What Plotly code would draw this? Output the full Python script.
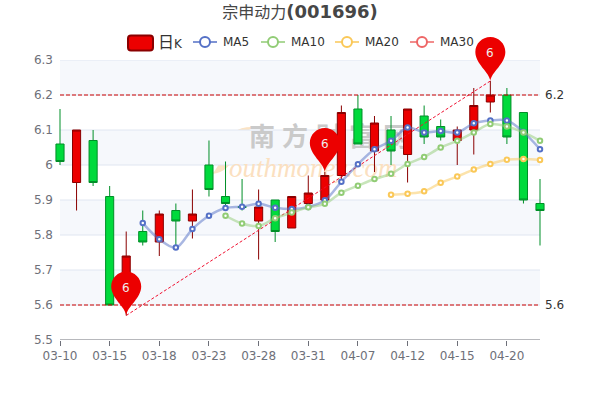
import plotly.graph_objects as go

dates = ["03-10","03-11","03-14","03-15","03-16","03-17","03-18","03-21","03-22","03-23",
         "03-24","03-25","03-28","03-29","03-30","03-31","04-01","04-06","04-07","04-08",
         "04-11","04-12","04-13","04-14","04-15","04-18","04-19","04-20","04-21","04-22"]
opens  = [6.06,5.95,6.07,5.91,5.62,5.81,5.78,5.87,5.84,6.00,5.91,5.881,5.84,5.90,5.82,5.89,5.90,5.97,6.16,6.04,6.10,6.03,6.14,6.11,6.07,6.10,6.18,6.20,6.15,5.89]
closes = [6.01,6.10,5.95,5.60,5.74,5.78,5.86,5.84,5.86,5.93,5.89,5.879,5.88,5.81,5.91,5.92,5.97,6.15,6.06,6.12,6.04,6.16,6.08,6.08,6.10,6.17,6.20,6.08,5.90,5.87]
lows   = [6.00,5.87,5.94,5.60,5.57,5.77,5.74,5.77,5.79,5.91,5.87,5.87,5.73,5.78,5.82,5.89,5.90,5.96,6.06,5.98,6.00,5.95,6.06,6.07,6.00,6.03,6.15,6.06,5.89,5.77]
highs  = [6.16,6.10,6.10,5.94,5.81,5.87,5.87,5.89,5.93,6.07,6.01,5.96,5.93,5.90,5.91,5.97,5.98,6.17,6.20,6.14,6.14,6.16,6.17,6.13,6.11,6.22,6.24,6.22,6.15,5.96]

ma5  = [5.834,5.788,5.764,5.817,5.855,5.877,5.881,5.889,5.878,5.874,5.880,5.899,5.952,6.002,6.045,6.069,6.107,6.093,6.097,6.093,6.119,6.127,6.127,6.094,6.045]
ma10 = [5.855,5.833,5.826,5.848,5.864,5.879,5.889,5.921,5.941,5.960,5.975,6.003,6.023,6.050,6.069,6.093,6.117,6.110,6.093,6.069]
ma20 = [5.915,5.918,5.925,5.949,5.967,5.987,6.003,6.015,6.017,6.014]
ma30 = []

y_ticks = [5.5,5.6,5.7,5.8,5.9,6.0,6.1,6.2,6.3]
y_labels = ["5.5","5.6","5.7","5.8","5.9","6","6.1","6.2","6.3"]
x_tick_idx = [0,3,6,9,12,15,18,21,24,27]
tinted_bands = [(5.6,5.7),(5.8,5.9),(6.0,6.1),(6.2,6.3)]
mark_levels = [6.2,5.6]
pin_points = [(4,5.57,"6"),(16,5.98,"6"),(26,6.24,"6")]
trend_x = [dates[4],dates[26]]
trend_y = [5.57,6.24]

L,R,T,B = 54,54,60,60
W,H = 600,400
STEP = 480/29
PAD = 6/STEP
FONT = "DejaVu Sans, Noto Sans CJK SC, sans-serif"
GRAY = "#6E7079"

def px(x): return (x-L)/(W-L-R)
def py(y): return (H-B-y)/(H-T-B)
def idx_to_paper(i): return (i+PAD)/(29+2*PAD)
def val_to_paper(v): return (v-5.5)/0.8

fig = go.Figure()

# watermark on the base axes, under the candles
wm_chars = ["南","方","财","富","网"]
wm_cols = [12.2,14.2,16.25,18.25,20.3]
fig.add_trace(go.Scatter(x=wm_cols,y=[6.072]*5,mode="text",text=wm_chars,hoverinfo="skip",showlegend=False,
    textfont=dict(size=26,color="#cacaca",family="Noto Sans CJK SC"),texttemplate="<b>%{text}</b>"))
fig.add_trace(go.Scatter(x=[15.3],y=[5.985],mode="text",text=["outhmoney.com"],hoverinfo="skip",showlegend=False,
    textfont=dict(size=27,color="#fbe0c0",family="Liberation Serif"),texttemplate="<i>%{text}</i>"))

fig.add_trace(go.Candlestick(x=dates,open=opens,close=closes,low=lows,high=highs,xaxis="x2",yaxis="y2",
    name="日K",whiskerwidth=0,hoverinfo="skip",showlegend=False,
    increasing=dict(line=dict(color="#8A0000",width=1),fillcolor="#ec0000"),
    decreasing=dict(line=dict(color="#008F28",width=1),fillcolor="#00da3c")))

fig.add_trace(go.Scatter(x=trend_x,y=trend_y,mode="lines",xaxis="x2",yaxis="y2",hoverinfo="skip",showlegend=False,
    line=dict(color="#f01030",width=1,dash="3px,2px")))

for name,vals,col,rgba in [("MA5",ma5,"#5470C6","rgba(84,112,198,0.5)"),
                           ("MA10",ma10,"#91CC75","rgba(145,204,117,0.5)"),
                           ("MA20",ma20,"#FAC858","rgba(250,200,88,0.5)"),
                           ("MA30",ma30,"#EE6666","rgba(238,102,102,0.5)")]:
    fig.add_trace(go.Scatter(x=dates[len(dates)-len(vals):],y=vals,name=name,mode="lines+markers",xaxis="x2",yaxis="y2",
        hoverinfo="skip",showlegend=False,
        line=dict(color=rgba,width=2.5,shape="spline",smoothing=1),
        marker=dict(size=4.5,color="white",line=dict(color=col,width=2))))

shapes=[]
for a,b in tinted_bands:
    shapes.append(dict(type="rect",xref="x",yref="y",x0=0,x1=29,y0=a,y1=b,fillcolor="#F6F8FC",line_width=0,layer="below"))
for v in y_ticks[1:]:
    shapes.append(dict(type="line",xref="x",yref="y",x0=0,x1=29,y0=v,y1=v,line=dict(color="#E0E6F1",width=1),layer="below"))
shapes.append(dict(type="line",xref="x",yref="y",x0=0,x1=29,y0=5.5,y1=5.5,line=dict(color=GRAY,width=1),layer="below"))
for v in mark_levels:
    shapes.append(dict(type="line",xref="x",yref="y",x0=0,x1=29,y0=v,y1=v,line=dict(color="#cc0000",width=1,dash="4px,2px"),layer="above"))

def pixel_shape(path,fill,line=None,layer="below",ax=0,ay=0):
    return dict(type="path",xref="paper",yref="paper",xsizemode="pixel",ysizemode="pixel",xanchor=ax,yanchor=ay,
                path=path,fillcolor=fill,line=line or dict(width=0),layer=layer)
def P(pts):
    return " ".join(c+" "+",".join(f"{x-L:.1f},{H-B-y:.1f}" for x,y in seg) for c,seg in pts)+" Z"
# logo swoosh
shapes.append(pixel_shape(P([("M",[(255,127)]),("C",[(238,126),(228,133),(224,148)]),("C",[(221,160),(218,168),(212,174)]),
                             ("C",[(224,173),(232,165),(236,152)]),("C",[(239,141),(243,131),(255,127)])]),"#fbe3c4"))

PIN="M0,0 C-1,9 -15,17 -15,29 C-15,37.3 -8.3,44 0,44 C8.3,44 15,37.3 15,29 C15,17 1,9 0,0 Z"
anns=[]
for i,v,t in pin_points:
    shapes.append(pixel_shape(PIN,"#ec0000",None,"above",idx_to_paper(i),val_to_paper(v)))
    anns.append(dict(xref="x",yref="y",x=i,y=v,text=t,showarrow=False,yshift=28,font=dict(size=12,color="#eeeeee",family=FONT)))
for v in mark_levels:
    anns.append(dict(xref="x",yref="y",x=29,y=v,text=str(v),showarrow=False,xanchor="left",xshift=3,font=dict(size=12,color="#333333",family=FONT)))

# legend
LY=42
shapes.append(pixel_shape(P([("M",[(131,35.5)]),("L",[(150,35.5)]),("C",[(152,35.5),(153,36.5),(153,38.5)]),("L",[(153,47.5)]),
    ("C",[(153,49.5),(152,50.5),(150,50.5)]),("L",[(131,50.5)]),("C",[(129,50.5),(128,49.5),(128,47.5)]),("L",[(128,38.5)]),
    ("C",[(128,36.5),(129,35.5),(131,35.5)])]),"#ec0000",dict(color="#8A0000",width=2),"above"))
anns.append(dict(xref="paper",yref="paper",x=px(156),y=py(LY),xanchor="left",yanchor="middle",showarrow=False,
    text='<span style="font-size:16px">日</span>K',font=dict(size=12,color="#333333",family=FONT)))
for name,x0,col in [("MA5",193,"#5470C6"),("MA10",261,"#91CC75"),("MA20",335,"#FAC858"),("MA30",410,"#EE6666")]:
    shapes.append(dict(type="line",xref="paper",yref="paper",x0=px(x0),x1=px(x0+24),y0=py(LY),y1=py(LY),line=dict(color=col,width=2),opacity=0.75,layer="above"))
    shapes.append(dict(type="circle",xref="paper",yref="paper",x0=px(x0+7),x1=px(x0+17),y0=py(LY-5),y1=py(LY+5),
                       fillcolor="white",line=dict(color=col,width=2),layer="above"))
    anns.append(dict(xref="paper",yref="paper",x=px(x0+28),y=py(LY),xanchor="left",yanchor="middle",showarrow=False,text=name,
                     font=dict(size=12,color="#333333",family=FONT)))

rng=[-PAD,29+PAD]
fig.update_layout(width=W,height=H,autosize=False,margin=dict(l=L,r=R,t=T,b=B,pad=0),
    paper_bgcolor="white",plot_bgcolor="rgba(0,0,0,0)",showlegend=False,shapes=shapes,annotations=anns,
    title=dict(text='<span style="font-size:16px">宗申动力</span><b>(001696)</b>',x=0.5,xanchor="center",y=1-12/H,yanchor="middle",
               font=dict(size=18,color="#464646",family=FONT)),
    xaxis=dict(range=rng,tickmode="array",tickvals=x_tick_idx,ticktext=[dates[i] for i in x_tick_idx],showgrid=False,zeroline=False,
               ticks="outside",ticklen=5,tickcolor=GRAY,tickwidth=1,tickfont=dict(size=12,color=GRAY,family=FONT)),
    yaxis=dict(range=[5.5,6.3],tickmode="array",tickvals=y_ticks,ticktext=y_labels,showgrid=False,zeroline=False,
               tickfont=dict(size=12,color=GRAY,family=FONT)),
    xaxis2=dict(overlaying="x",type="category",range=rng,visible=False,rangeslider=dict(visible=False),anchor="y2"),
    yaxis2=dict(overlaying="y",range=[5.5,6.3],visible=False,anchor="x2"),
)
fig.write_html("out.html",post_script="document.body.style.margin='0';",config=dict(displayModeBar=False))
